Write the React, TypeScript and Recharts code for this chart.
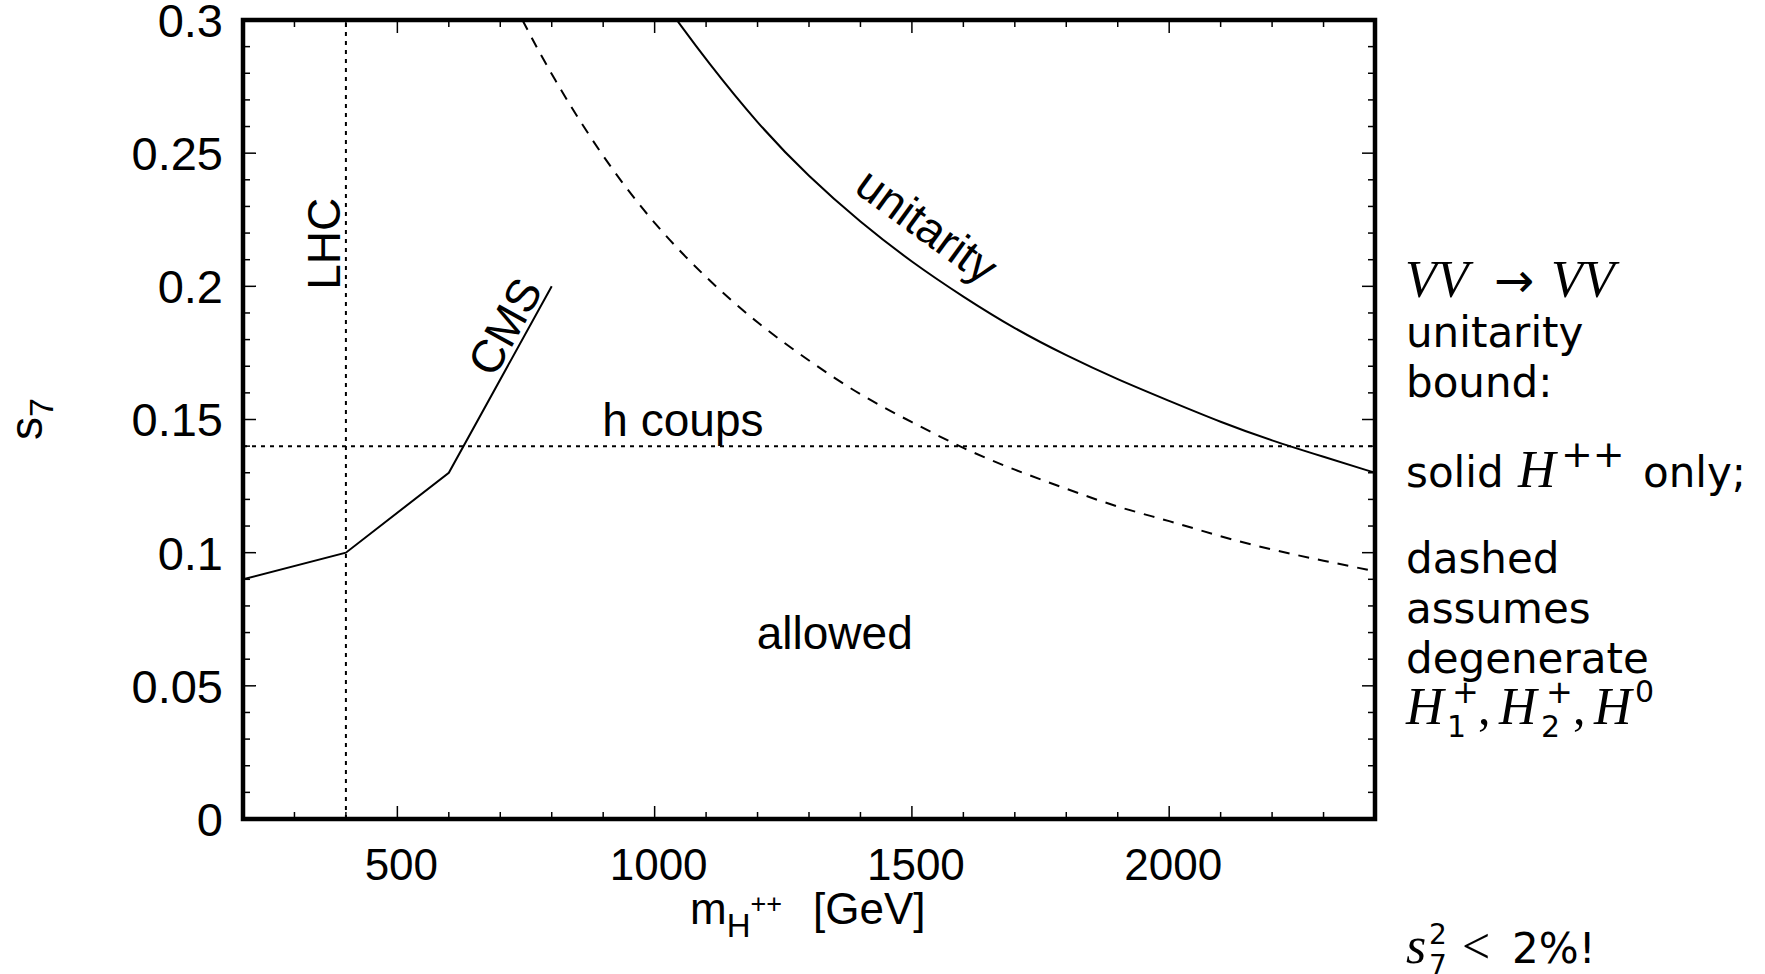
import React from "react";
import { LineChart, Line, XAxis, YAxis, ReferenceArea, ReferenceDot } from "recharts";

// CMS lower bound on s7 vs m_H++
const cmsMass = [200, 400, 600, 800];
const cmsS7 = [0.09, 0.1, 0.13, 0.2];

// VV -> VV unitarity bound, H++ only (solid)
const unitMass = [1043, 1100, 1200, 1300, 1400, 1500, 1600, 1700, 1800, 1900, 2000, 2100, 2200, 2300, 2400];
const unitS7 = [0.3, 0.285, 0.261, 0.241, 0.224, 0.209, 0.196, 0.184, 0.174, 0.165, 0.157, 0.149, 0.142, 0.136, 0.13];

// degenerate H1+, H2+, H0 (dashed)
const degMass = [743, 800, 900, 1000, 1100, 1200, 1300, 1400, 1500, 1600, 1700, 1800, 1900, 2000, 2100, 2200, 2300, 2400];
const degS7 = [0.3, 0.279, 0.248, 0.223, 0.203, 0.186, 0.172, 0.159, 0.149, 0.139, 0.131, 0.124, 0.117, 0.112, 0.106, 0.101, 0.097, 0.093];

const lhcMass = 400;
const hCoupsS7 = 0.14;

const X_MAJOR = [500, 1000, 1500, 2000];
const X_MINOR = Array.from({ length: 23 }, (_, i) => 200 + i * 100);
const Y_LABELS = ["0", "0.05", "0.1", "0.15", "0.2", "0.25", "0.3"];
const Y_TICKS = Array.from({ length: 31 }, (_, i) => i / 100);

const zip = (xs: number[], ys: number[]) => xs.map((x, i) => ({ x, y: ys[i] }));
const cmsData = zip(cmsMass, cmsS7);
const unitData = zip(unitMass, unitS7);
const degData = zip(degMass, degS7);
const lhcData = [{ x: lhcMass, y: 0 }, { x: lhcMass, y: 0.3 }];
const hData = [{ x: 200, y: hCoupsS7 }, { x: 2400, y: hCoupsS7 }];

const SANS = "'Liberation Sans', Arial, sans-serif";
const TEXT_SANS = "'DejaVu Sans', sans-serif";
const SERIF = "'Liberation Serif', 'DejaVu Serif', serif";
const FS = 46;

const isMajorY = (v: number) => Math.round(v * 100) % 5 === 0;

const BottomTick = (p: any) => {
  const v = p.payload.value;
  const major = X_MAJOR.includes(v);
  return (
    <g>
      <line x1={p.x} x2={p.x} y1={p.y} y2={p.y - (major ? 13 : 7)} stroke="#000" strokeWidth={1.5} />
      {major && (
        <text x={p.x + 4} y={p.y + 61} textAnchor="middle" fontFamily={SANS} fontSize={44} fill="#000">
          {v}
        </text>
      )}
    </g>
  );
};

const TopTick = (p: any) => {
  const major = X_MAJOR.includes(p.payload.value);
  return <line x1={p.x} x2={p.x} y1={p.y} y2={p.y + (major ? 13 : 7)} stroke="#000" strokeWidth={1.5} />;
};

const LeftTick = (p: any) => {
  const v = p.payload.value;
  const major = isMajorY(v);
  return (
    <g>
      <line x1={p.x} x2={p.x + (major ? 13 : 7)} y1={p.y} y2={p.y} stroke="#000" strokeWidth={1.5} />
      {major && (
        <text x={p.x - 20} y={p.y} dy="0.36em" textAnchor="end" fontFamily={SANS} fontSize={47} fill="#000">
          {Y_LABELS[Math.round(v * 100) / 5]}
        </text>
      )}
    </g>
  );
};

const RightTick = (p: any) => {
  const major = isMajorY(p.payload.value);
  return <line x1={p.x} x2={p.x - (major ? 13 : 7)} y1={p.y} y2={p.y} stroke="#000" strokeWidth={1.5} />;
};

const labelShape = (text: string, angle: number) => (p: any) => (
  <text
    x={p.cx}
    y={p.cy}
    dy="0.36em"
    textAnchor="middle"
    fontFamily={SANS}
    fontSize={FS}
    fill="#000"
    transform={`rotate(${angle} ${p.cx} ${p.cy})`}
  >
    {text}
  </text>
);

// annotation anchors in data coordinates
const annotations = [
  { text: "LHC", x: 357, y: 0.216, angle: -90 },
  { text: "CMS", x: 708, y: 0.185, angle: -61 },
  { text: "unitarity", x: 1530, y: 0.223, angle: 36 },
  { text: "h coups", x: 1055, y: 0.15, angle: 0 },
  { text: "allowed", x: 1350, y: 0.07, angle: 0 },
];

export default function App() {
  return (
    <div style={{ position: "absolute", left: 0, top: 0, width: 1765, height: 974, background: "#fff" }}>
      <LineChart width={1765} height={974} margin={{ top: 10, left: 203, right: 380, bottom: 115 }}>
        <XAxis
          xAxisId="b"
          dataKey="x"
          type="number"
          domain={[200, 2400]}
          allowDataOverflow
          ticks={X_MINOR}
          interval={0}
          height={40}
          axisLine={false}
          tickLine={false}
          tickSize={0}
          tickMargin={0}
          tick={BottomTick}
        />
        <XAxis
          xAxisId="t"
          orientation="top"
          dataKey="x"
          type="number"
          domain={[200, 2400]}
          allowDataOverflow
          ticks={X_MINOR}
          interval={0}
          height={10}
          axisLine={false}
          tickLine={false}
          tickSize={0}
          tickMargin={0}
          tick={TopTick}
        />
        <YAxis
          yAxisId="l"
          type="number"
          domain={[0, 0.3]}
          allowDataOverflow
          ticks={Y_TICKS}
          interval={0}
          width={40}
          axisLine={false}
          tickLine={false}
          tickSize={0}
          tickMargin={0}
          tick={LeftTick}
        />
        <YAxis
          yAxisId="r"
          orientation="right"
          type="number"
          domain={[0, 0.3]}
          allowDataOverflow
          ticks={Y_TICKS}
          interval={0}
          width={10}
          axisLine={false}
          tickLine={false}
          tickSize={0}
          tickMargin={0}
          tick={RightTick}
        />
        <Line xAxisId="b" yAxisId="l" data={lhcData} dataKey="y" stroke="#000" strokeWidth={2} strokeDasharray="4 5" dot={false} isAnimationActive={false} />
        <Line xAxisId="b" yAxisId="l" data={hData} dataKey="y" stroke="#000" strokeWidth={2} strokeDasharray="4 5" dot={false} isAnimationActive={false} />
        <Line xAxisId="b" yAxisId="l" data={cmsData} dataKey="y" type="linear" stroke="#000" strokeWidth={2} dot={false} isAnimationActive={false} />
        <Line xAxisId="b" yAxisId="l" data={degData} dataKey="y" type="basis" stroke="#000" strokeWidth={2} strokeDasharray="11 9" dot={false} isAnimationActive={false} />
        <Line xAxisId="b" yAxisId="l" data={unitData} dataKey="y" type="basis" stroke="#000" strokeWidth={2} dot={false} isAnimationActive={false} />
        <ReferenceArea xAxisId="b" yAxisId="l" x1={200} x2={2400} y1={0} y2={0.3} fill="none" stroke="#000" strokeWidth={4.5} />
        {annotations.map((a) => (
          <ReferenceDot key={a.text} xAxisId="b" yAxisId="l" x={a.x} y={a.y} r={0} shape={labelShape(a.text, a.angle)} />
        ))}
      </LineChart>
      <svg width={1765} height={974} style={{ position: "absolute", left: 0, top: 0, pointerEvents: "none" }}>
        {/* axis titles */}
        <text x={42} y={440} transform="rotate(-90 42 440)" fontFamily={SANS} fontSize={FS} fill="#000">
          s<tspan dy={11} fontSize={34}>7</tspan>
        </text>
        <text x={690} y={924} fontFamily={SANS} fontSize={44} fill="#000">
          m<tspan dy={13} fontSize={33}>H</tspan>
          <tspan dy={-24} fontSize={27}>++</tspan>
          <tspan x={813} dy={11}>[GeV]</tspan>
        </text>

        {/* side note */}
        <g fill="#000">
          <text y={297}>
            <tspan x={1405} fontFamily={SERIF} fontStyle="italic" fontSize={52}>VV</tspan>
            <tspan x={1494} fontFamily={TEXT_SANS} fontSize={48}>→</tspan>
            <tspan x={1551} fontFamily={SERIF} fontStyle="italic" fontSize={52}>VV</tspan>
          </text>
          <text x={1406} y={347} fontFamily={TEXT_SANS} fontSize={42}>unitarity</text>
          <text x={1406} y={397} fontFamily={TEXT_SANS} fontSize={42}>bound:</text>
          <text y={487}>
            <tspan x={1406} fontFamily={TEXT_SANS} fontSize={42}>solid</tspan>
            <tspan x={1518} fontFamily={SERIF} fontStyle="italic" fontSize={52}>H</tspan>
            <tspan x={1561} dy={-20} fontFamily={TEXT_SANS} fontSize={38}>++</tspan>
            <tspan x={1643} dy={20} fontFamily={TEXT_SANS} fontSize={42}>only;</tspan>
          </text>
          <text x={1406} y={573} fontFamily={TEXT_SANS} fontSize={42}>dashed</text>
          <text x={1406} y={623} fontFamily={TEXT_SANS} fontSize={42}>assumes</text>
          <text x={1406} y={673} fontFamily={TEXT_SANS} fontSize={42}>degenerate</text>
          <text y={724}>
            <tspan x={1406} fontFamily={SERIF} fontStyle="italic" fontSize={52}>H</tspan>
            <tspan x={1452} dy={-21} fontFamily={TEXT_SANS} fontSize={32}>+</tspan>
            <tspan x={1447} dy={34} fontFamily={TEXT_SANS} fontSize={30}>1</tspan>
            <tspan x={1478} dy={-13} fontFamily={SERIF} fontSize={50}>,</tspan>
            <tspan x={1499} fontFamily={SERIF} fontStyle="italic" fontSize={52}>H</tspan>
            <tspan x={1546} dy={-21} fontFamily={TEXT_SANS} fontSize={32}>+</tspan>
            <tspan x={1541} dy={34} fontFamily={TEXT_SANS} fontSize={30}>2</tspan>
            <tspan x={1573} dy={-13} fontFamily={SERIF} fontSize={50}>,</tspan>
            <tspan x={1594} fontFamily={SERIF} fontStyle="italic" fontSize={52}>H</tspan>
            <tspan x={1635} dy={-22} fontFamily={TEXT_SANS} fontSize={30}>0</tspan>
          </text>
          <text y={963}>
            <tspan x={1406} fontFamily={SERIF} fontStyle="italic" fontSize={52}>s</tspan>
            <tspan x={1429} dy={-19} fontFamily={TEXT_SANS} fontSize={28}>2</tspan>
            <tspan x={1429} dy={31} fontFamily={TEXT_SANS} fontSize={28}>7</tspan>
            <tspan x={1462} dy={-12} fontFamily={SERIF} fontSize={50}>&lt;</tspan>
            <tspan x={1512} fontFamily={TEXT_SANS} fontSize={42}>2%!</tspan>
          </text>
        </g>
      </svg>
    </div>
  );
}
